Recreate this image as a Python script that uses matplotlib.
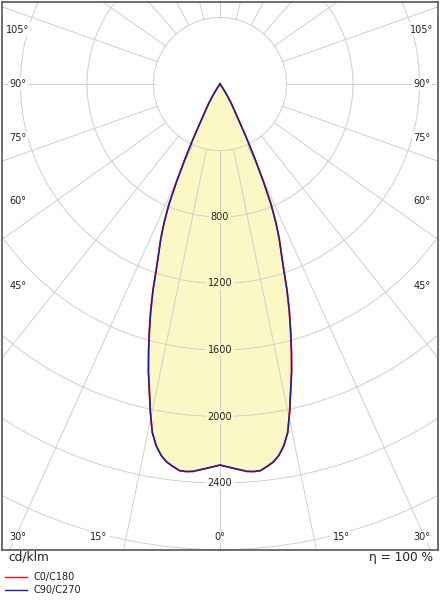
import numpy as np
import matplotlib
matplotlib.use("Agg")
import matplotlib.pyplot as plt

# luminous intensity, cd/klm (both planes coincide)
gamma_deg = [0, 2, 4, 5, 6, 7, 8, 9, 10, 11, 12, 13, 14, 15, 16, 17, 18, 19,
             20, 21, 22, 23, 24, 25, 26, 27, 28, 30, 32, 34, 35, 40, 90, 180]
c0_c180 = [2292, 2313, 2336, 2340, 2338, 2318, 2297, 2262, 2210, 2135, 2015,
           1890, 1780, 1660, 1540, 1425, 1305, 1175, 1075, 992, 895, 785, 640,
           500, 378, 275, 210, 140, 80, 30, 0, 0, 0, 0]
c90_c270 = [2292, 2313, 2336, 2340, 2338, 2318, 2297, 2262, 2210, 2135, 2015,
            1890, 1780, 1660, 1540, 1425, 1305, 1175, 1075, 992, 895, 785, 640,
            500, 378, 275, 210, 140, 80, 30, 0, 0, 0, 0]

ring_values = [400, 800, 1200, 1600, 2000, 2400, 2800, 3200]
ring_labels = [800, 1200, 1600, 2000, 2400]
side_labels = [105, 90, 75, 60, 45]
bottom_labels = [15, 0]
legend_names = ["C0/C180", "C90/C270"]
eta_text = "\u03b7 = 100 %"
unit_text = "cd/klm"

# spoke directions as drawn in the original (from the downward vertical)
spokes_lower = [0, 11.7, 24.3, 38.5, 54.5, 70.5, 90]
spokes_upper = [109.5, 125, 139, 152, 166, 180]

W, H = 440, 600
CX, CY = 220, 84          # pole in pixels
PX = 400 / 66.5           # cd/klm per pixel
FILL = "#fcf8c6"
GRID = "#cfcfcf"


def px2data(x, y):
    return (x - CX) * PX, (CY - y) * PX


def curve_xy(g, vals):
    g = np.radians(np.array(g, dtype=float))
    v = np.array(vals, dtype=float)
    # right half then mirrored left half
    xr, yr = v * np.sin(g), -v * np.cos(g)
    x = np.concatenate([xr[::-1], -xr[1:]])
    y = np.concatenate([yr[::-1], yr[1:]])
    return x, y


fig = plt.figure(figsize=(W / 100, H / 100), dpi=100)
ax = fig.add_axes([2 / W, 50 / H, 436 / W, 548 / H])
x0, y1 = px2data(2, 2)
x1, y0 = px2data(438, 550)
ax.set_xlim(x0, x1)
ax.set_ylim(y0, y1)
ax.set_aspect("equal")
ax.set_xticks([])
ax.set_yticks([])
for s in ax.spines.values():
    s.set_color("#555555")
    s.set_linewidth(1.2)

# fill
fx, fy = curve_xy(gamma_deg, c0_c180)
ax.fill(fx, fy, color=FILL, lw=0, zorder=1)

# rings
t = np.linspace(0, 2 * np.pi, 400)
for r in ring_values:
    ax.plot(r * np.cos(t), r * np.sin(t), color=GRID, lw=0.7, zorder=2)

# spokes start at the first ring
rmin, rmax = ring_values[0], 6000
for a in spokes_lower + spokes_upper:
    a = np.radians(a)
    for sgn in (1, -1):
        dx, dy = sgn * np.sin(a), -np.cos(a)
        ax.plot([rmin * dx, rmax * dx], [rmin * dy, rmax * dy],
                color=GRID, lw=0.7, zorder=2)

# curves: red first, blue on top
x, y = curve_xy(gamma_deg, c0_c180)
ax.plot(x, y, color="#e8141c", lw=1.3, zorder=4)
x, y = curve_xy(gamma_deg, c90_c270)
ax.plot(x, y, color="#1c1ca0", lw=1.0, zorder=5)

# ring labels on the 0 deg line
for v in ring_labels:
    inside = v < c0_c180[0]
    ax.text(0, -v, str(v), ha="center", va="center", fontsize=7,
            color="#222222", zorder=6,
            bbox=dict(boxstyle="square,pad=0.15", fc=FILL if inside else "white",
                      ec="none"))

# angle labels
lab_kw = dict(fontsize=7, color="#222222", va="center", zorder=6,
              bbox=dict(boxstyle="square,pad=0.15", fc="white", ec="none"))
lx, rx = 18, 422
by = 537
for a in side_labels:
    ty = CY + (lx - CX) * -1 / np.tan(np.radians(a)) if a != 90 else CY
    ax.text(*px2data(lx, ty), f"{a}\u00b0", ha="center", **lab_kw)
    ax.text(*px2data(rx, ty), f"{a}\u00b0", ha="center", **lab_kw)
for a in bottom_labels:
    dx = (by - CY) * np.tan(np.radians(a))
    ax.text(*px2data(CX - dx, by), f"{a}\u00b0", ha="center", **lab_kw)
    if a:
        ax.text(*px2data(CX + dx, by), f"{a}\u00b0", ha="center", **lab_kw)
ax.text(*px2data(lx, by), "30\u00b0", ha="center", **lab_kw)
ax.text(*px2data(rx, by), "30\u00b0", ha="center", **lab_kw)

# text under the frame
fig.text(8 / W, 1 - 557 / H, unit_text, fontsize=8.7, color="#222222",
         va="center", ha="left")
fig.text(433 / W, 1 - 557 / H, eta_text, fontsize=8.7, color="#222222",
         va="center", ha="right")
for i, (name, col) in enumerate(zip(legend_names, ["#e8141c", "#1c1ca0"])):
    yy = 1 - (577 + 12.5 * i) / H
    fig.add_artist(plt.Line2D([5 / W, 27 / W], [yy, yy], color=col, lw=1.0))
    fig.text(33 / W, yy, name, fontsize=7, color="#222222", va="center")

fig.savefig("out.png", dpi=100)
